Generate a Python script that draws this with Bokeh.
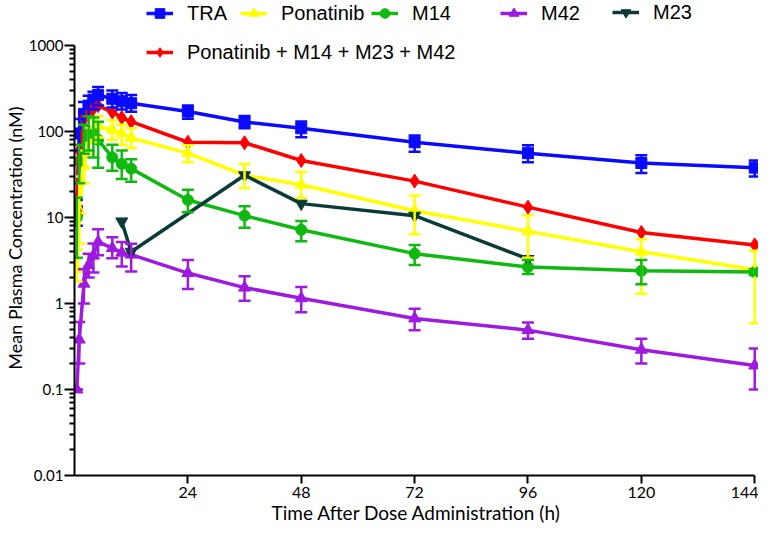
import math
from bokeh.plotting import figure
from bokeh.models import (ColumnDataSource, Range1d, FixedTicker, CustomJSTickFormatter,
                          Whisker, TeeHead, Legend, LegendItem)
from bokeh.embed import file_html
from bokeh.resources import INLINE

# ---------------- data ----------------
times = [0.5, 1, 2, 3, 4, 5, 8, 10, 12, 24, 36, 48, 72, 96, 120, 144]

tra    = [12, 95, 160, 200, 235, 265, 240, 225, 213, 171, 129, 109, 75, 56, 43, 38]
tra_lo = [8, 60, 110, 150, 180, 200, 190, 180, 170, 141, 109, 86, 58, 44, 33, 30]
tra_hi = [16, 140, 220, 260, 290, 330, 300, 280, 265, 200, 151, 131, 90, 69, 53, 46]

pon    = [2.5, 12, 40, 80, 105, 115, 105, 95, 84, 56, 31, 24, 12, 6.9, 4.0, 2.47]
pon_lo = [1.8, 5, 25, 55, 75, 85, 80, 70, 64, 44, 22, 17, 6.4, 3.4, 1.3, 0.59]
pon_hi = [4.2, 30, 60, 110, 140, 150, 135, 120, 109, 69, 42, 34, 18, 10.6, 5.6, 4.1]

m14    = [10, 45, 88, 100, 95, 80, 50, 42, 37, 16, 10.5, 7.2, 3.8, 2.65, 2.4, 2.32]
m14_lo = [3.4, 25, 55, 60, 50, 38, 35, 28, 26, 11.5, 7.6, 5.3, 2.8, 2.2, 1.67, 2.15]
m14_hi = [17, 70, 120, 150, 145, 130, 70, 60, 47.5, 21, 13.5, 9.1, 4.8, 3.2, 3.2, 2.5]

m42    = [0.1, 0.38, 1.7, 2.8, 3.6, 5.2, 4.4, 3.9, 3.7, 2.26, 1.53, 1.15, 0.67, 0.49, 0.29, 0.19]
m42_lo = [0.1, 0.2, 1.0, 2.0, 2.3, 3.65, 3.35, 2.7, 2.36, 1.47, 1.08, 0.79, 0.49, 0.39, 0.2, 0.1]
m42_hi = [0.1, 0.61, 2.5, 3.8, 5.0, 7.3, 5.9, 5.2, 4.95, 3.2, 2.07, 1.56, 0.87, 0.6, 0.39, 0.3]

m23_times = [10, 12, 36, 48, 72, 96]
m23       = [9.0, 4.0, 31, 14.5, 10.5, 3.3]

total = [12, 60, 140, 160, 185, 200, 168, 145, 130, 75, 74, 46, 26.5, 13.2, 6.7, 4.8]

x_ticks = [24, 48, 72, 96, 120, 144]
y_ticks = [0.01, 0.1, 1, 10, 100, 1000]
y_minor = [k * 10 ** e for e in range(-2, 3) for k in range(2, 10)]

# ---------------- figure ----------------
AX_FONT = "Lato"
LEG_FONT = "Liberation Sans"

W, H = 758, 528
LEFT, BOTTOM = 72, 53
FRAME_BOTTOM = H - BOTTOM          # 475
TOP_1000 = 45                      # pixel row of the 1000 tick
decade = (FRAME_BOTTOM - TOP_1000) / 5.0
y_top = 10 ** (3 + TOP_1000 / decade)   # frame extends up to hold the legend

p = figure(width=W, height=H, output_backend="svg", toolbar_location=None,
           y_axis_type="log", title=None,
           x_range=Range1d(0, 144.8), y_range=Range1d(0.01, y_top),
           min_border_left=LEFT, min_border_right=0, min_border_top=0,
           min_border_bottom=BOTTOM)
p.outline_line_color = None
p.xgrid.visible = False
p.ygrid.visible = False
p.background_fill_color = "white"
p.border_fill_color = "white"

for ax in (p.xaxis, p.yaxis):
    ax.axis_line_color = "black"
    ax.axis_line_width = 2
    ax.major_tick_line_color = "black"
    ax.major_tick_line_width = 2
    ax.minor_tick_line_color = "black"
    ax.minor_tick_line_width = 2
    ax.major_tick_in = 0
    ax.minor_tick_in = 0
    ax.major_label_text_font = AX_FONT
    ax.major_label_text_color = "black"
    ax.axis_label_text_font = AX_FONT
    ax.axis_label_text_font_style = "normal"
    ax.axis_label_text_color = "black"

p.xaxis.ticker = FixedTicker(ticks=x_ticks, minor_ticks=[])
p.xaxis.bounds = (0, 144)
p.xaxis.major_tick_out = 8
p.xaxis.major_label_standoff = 3
p.xaxis.major_label_text_font_size = "16px"
p.xaxis.axis_label = "Time After Dose Administration (h)"
p.xaxis.axis_label_standoff = 0
p.xaxis.axis_label_text_font_size = "19px"

p.yaxis.ticker = FixedTicker(ticks=y_ticks, minor_ticks=y_minor)
p.yaxis.bounds = (0.01, 1000)
p.yaxis.formatter = CustomJSTickFormatter(code="return tick.toString();")
p.yaxis.major_tick_out = 10
p.yaxis.minor_tick_out = 5
p.yaxis.major_label_standoff = 1
p.yaxis.major_label_text_font_size = "15px"
p.yaxis.axis_label = "Mean Plasma Concentration (nM)"
p.yaxis.axis_label_standoff = 0
p.yaxis.axis_label_text_font_size = "18px"

series = [
    ("TRA", times, tra, tra_lo, tra_hi, "#0a0aff", "square", 11),
    ("Ponatinib", times, pon, pon_lo, pon_hi, "#ffff00", "triangle", 12),
    ("M14", times, m14, m14_lo, m14_hi, "#10b910", "circle", 11),
    ("M42", times, m42, m42_lo, m42_hi, "#9f1ae0", "triangle", 12),
    ("M23", m23_times, m23, None, None, "#0b3b38", "inverted_triangle", 12),
    ("Ponatinib + M14 + M23 + M42", times, total, None, None, "#ff0000", "diamond", 14),
]

items = {}
for name, tx, vals, lo, hi, col, marker, size in series:
    data = dict(t=tx, v=vals)
    if lo is not None:
        data["lo"] = lo
        data["hi"] = hi
    src = ColumnDataSource(data)
    ln = p.line("t", "v", source=src, line_color=col, line_width=3.5)
    if lo is not None:
        w = Whisker(base="t", lower="lo", upper="hi", source=src, level="glyph",
                    line_color=col, line_width=2.5,
                    upper_head=TeeHead(size=12, line_color=col, line_width=2.5),
                    lower_head=TeeHead(size=12, line_color=col, line_width=2.5))
        p.add_layout(w)
    sc = p.scatter("t", "v", source=src, marker=marker, size=size,
                   fill_color=col, line_color=col)
    items[name] = [ln, sc]

# legend entries: (name, glyph-left x, row-centre y) in figure pixels
ITEM_H = 24
legend_pos = [
    ("TRA", 144, 13),
    ("Ponatinib", 238, 13),
    ("M14", 369, 13),
    ("M42", 498, 13),
    ("M23", 610, 12),
    ("Ponatinib + M14 + M23 + M42", 144, 52),
]
for name, gx, cy in legend_pos:
    leg = Legend(items=[LegendItem(label=name, renderers=items[name])],
                 location=(gx - LEFT, FRAME_BOTTOM - (cy - ITEM_H / 2) - ITEM_H),
                 orientation="horizontal",
                 padding=0, margin=0, spacing=0,
                 glyph_width=27, glyph_height=ITEM_H, label_height=ITEM_H,
                 label_standoff=14, border_line_alpha=0, background_fill_alpha=0,
                 label_text_font=LEG_FONT, label_text_font_size="20px",
                 label_text_color="black")
    p.add_layout(leg)

open("out.html", "w").write(file_html(p, INLINE))
